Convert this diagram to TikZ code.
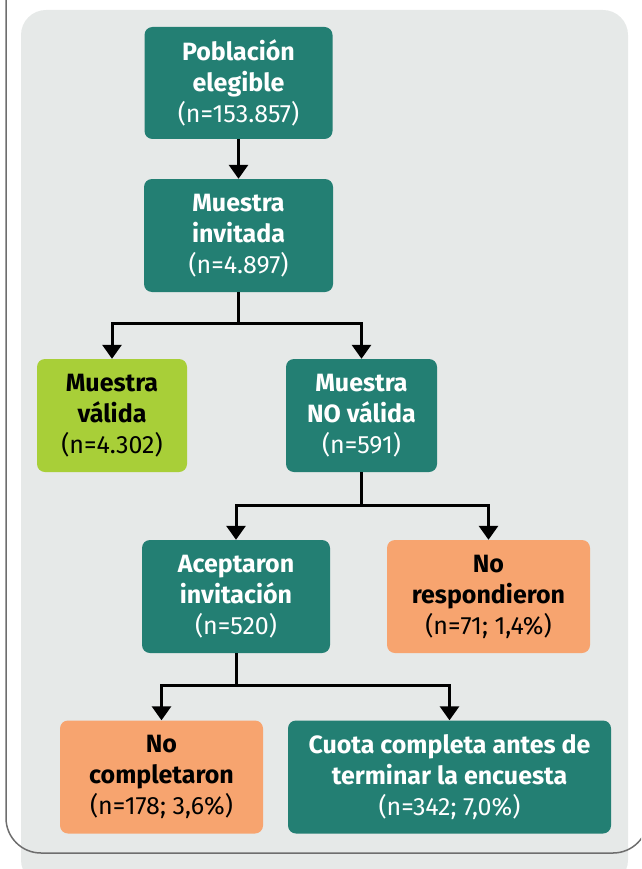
\documentclass[tikz,border=0pt]{standalone}
\usepackage{fontspec}
\setmainfont{Fira Sans}
\usetikzlibrary{arrows.meta,calc}
\definecolor{verde}{HTML}{237F73}
\definecolor{lima}{HTML}{A8CF38}
\definecolor{salmon}{HTML}{F7A46F}
\definecolor{fondo}{HTML}{E6E9E8}
\definecolor{marco}{HTML}{6E6E6E}

\begin{document}
\begin{tikzpicture}[x=1pt,y=-1pt,
    caja/.style={rounded corners=8pt,align=center,inner sep=0pt,
      font=\fontsize{25}{31}\selectfont},
    oscura/.style={caja,fill=verde,text=white},
    clara/.style={caja,fill=#1,text=black},
    flecha/.style={line width=3pt,-{Triangle[width=19pt,length=14pt]}}]
    % Fondo
    \clip (0,0) rectangle (641,869);
    \fill [fondo,rounded corners=25pt] (21,10) rectangle (628,885);
    \draw [marco,line width=1.5pt,rounded corners=35pt] (6,-20) -- (6,853) -- (648,853) -- (648,-20);
    % Cajas
    \node [oscura,minimum width=188pt,minimum height=112pt] (pob) at (238.5,83)
        {\textbf{Población}\\\textbf{elegible}\\(n=153.857)};
    \node [oscura,minimum width=189pt,minimum height=113pt] (inv) at (238.5,235.5)
        {\textbf{Muestra}\\\textbf{invitada}\\(n=4.897)};
    \node [clara=lima,minimum width=150pt,minimum height=113pt] (val) at (112,415.5)
        {\textbf{Muestra}\\\textbf{válida}\\(n=4.302)};
    \node [oscura,minimum width=151pt,minimum height=113pt] (noval) at (361.5,415.5)
        {\textbf{Muestra}\\\textbf{NO válida}\\(n=591)};
    \node [oscura,minimum width=188pt,minimum height=113pt] (acep) at (236,596.5)
        {\textbf{Aceptaron}\\\textbf{invitación}\\(n=520)};
    \node [clara=salmon,minimum width=203pt,minimum height=113pt] (noresp) at (488.5,596.5)
        {\textbf{No}\\\textbf{respondieron}\\(n=71; 1,4\%)};
    \node [clara=salmon,minimum width=203pt,minimum height=113pt] (nocomp) at (161.5,777)
        {\textbf{No}\\\textbf{completaron}\\(n=178; 3,6\%)};
    \node [oscura,minimum width=323pt,minimum height=113pt] (cuota) at (449.5,777)
        {\textbf{Cuota completa antes de}\\\textbf{terminar la encuesta}\\(n=342; 7,0\%)};
    % Flechas
    \draw [flecha] (pob) -- (inv);
    \coordinate (j1) at ($(inv.south)+(0,31)$);
    \coordinate (j2) at ($(noval.south)+(0,33)$);
    \coordinate (j3) at ($(acep.south)+(0,32)$);
    \draw [line width=3pt] (inv.south) -- (j1);
    \draw [flecha] (j1) -| (val.north);
    \draw [flecha] (j1) -| (noval.north);
    \draw [line width=3pt] (noval.south) -- (j2);
    \draw [flecha] (j2) -| (acep.north);
    \draw [flecha] (j2) -| (noresp.north);
    \draw [line width=3pt] (acep.south) -- (j3);
    \draw [flecha] (j3) -| (nocomp.north);
    \draw [flecha] (j3) -| (cuota.north);
\end{tikzpicture}
\end{document}
